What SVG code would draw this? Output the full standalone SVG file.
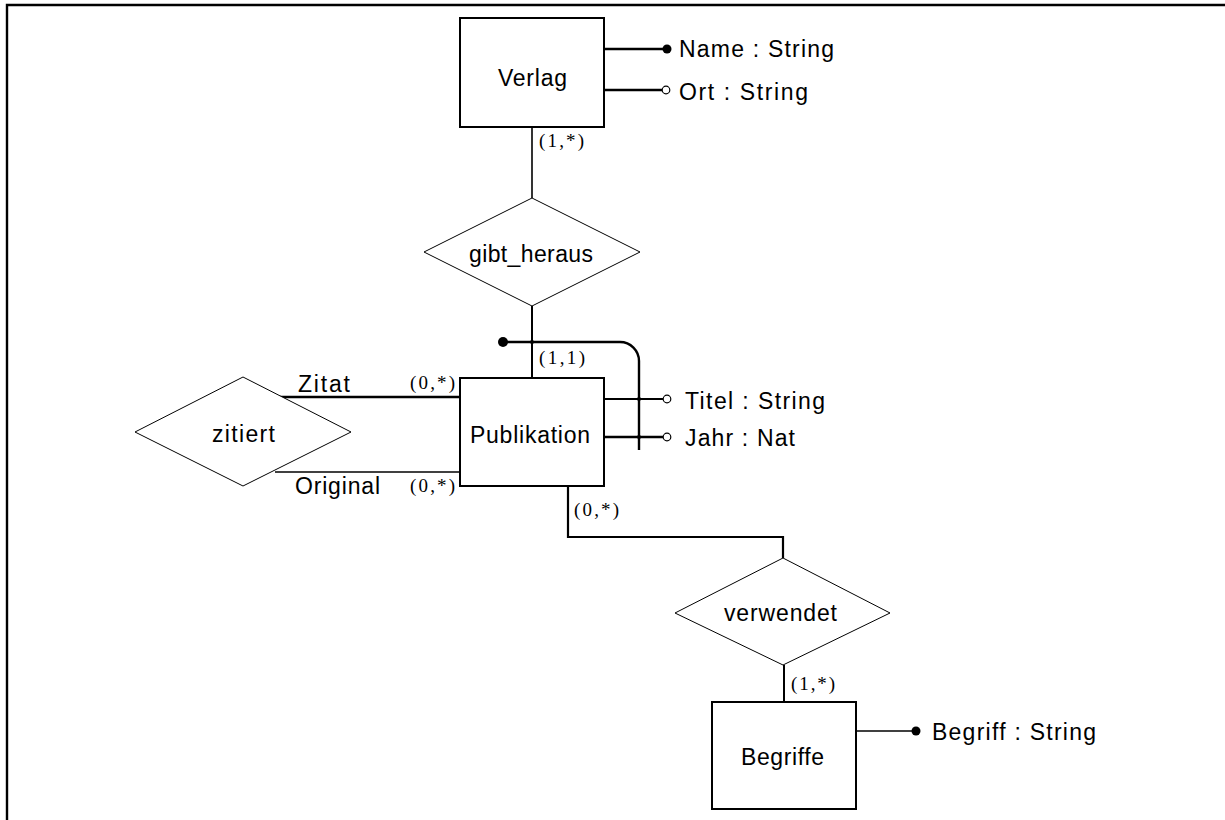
<svg xmlns="http://www.w3.org/2000/svg" width="1225" height="820" viewBox="0 0 1225 820">
<style>
.box{fill:#fff;stroke:#000;stroke-width:2}
.dia{fill:#fff;stroke:#000;stroke-width:1}
.ln{fill:none;stroke:#000;stroke-linecap:butt}
.t{font-family:"Liberation Sans","DejaVu Sans",sans-serif;font-size:23px;fill:#000}
.c{font-family:"Liberation Serif","DejaVu Serif",serif;font-size:19px;fill:#000}
.fd{fill:#000}
.hd{fill:#fff;stroke:#000;stroke-width:1.2}
</style>
<rect width="1225" height="820" fill="#fff"/>
<g id="frame">
<path class="ln" d="M7,820 V5 H1225" stroke-width="2.4"/>
</g>
<g id="connectors">
<line class="ln" x1="604" y1="49" x2="664" y2="49" stroke-width="2.6"/>
<line class="ln" x1="604" y1="90" x2="662" y2="90" stroke-width="2.6"/>
<line class="ln" x1="532" y1="127" x2="532" y2="198" stroke-width="1.6"/>
<line class="ln" x1="532" y1="306" x2="532" y2="378" stroke-width="2"/>
<path class="ln" d="M503,342 H620 A19,19 0 0 1 639,361 V450" stroke-width="2.4"/>
<line class="ln" x1="604" y1="399" x2="663" y2="399" stroke-width="2.2"/>
<line class="ln" x1="604" y1="437" x2="663" y2="437" stroke-width="2.6"/>
<line class="ln" x1="280" y1="397" x2="460" y2="397" stroke-width="2.6"/>
<line class="ln" x1="275" y1="472" x2="460" y2="472" stroke-width="1.6"/>
<path class="ln" d="M568,486 V537 H783 V558" stroke-width="2.2"/>
<line class="ln" x1="784" y1="665" x2="784" y2="702" stroke-width="2"/>
<line class="ln" x1="856" y1="731" x2="912" y2="731" stroke-width="1.6"/>
<circle class="fd" cx="667" cy="49" r="4.5"/>
<circle class="hd" cx="666" cy="90" r="3.8"/>
<circle class="fd" cx="503" cy="342" r="5"/>
<circle class="fd" cx="532" cy="342" r="2"/>
<circle class="fd" cx="639" cy="399" r="2"/>
<circle class="fd" cx="639" cy="437" r="2"/>
<circle class="hd" cx="667" cy="399" r="3.8"/>
<circle class="hd" cx="667" cy="437" r="3.8"/>
<circle class="fd" cx="916" cy="731" r="4.5"/>
<text class="c" x="539" y="147" textLength="45" lengthAdjust="spacing">(1,*)</text>
<text class="c" x="539" y="364" textLength="46" lengthAdjust="spacing">(1,1)</text>
<text class="c" x="410" y="389" textLength="45" lengthAdjust="spacing">(0,*)</text>
<text class="c" x="410" y="492" textLength="45" lengthAdjust="spacing">(0,*)</text>
<text class="c" x="574" y="516" textLength="45" lengthAdjust="spacing">(0,*)</text>
<text class="c" x="791" y="690" textLength="44" lengthAdjust="spacing">(1,*)</text>
<text class="t" x="298" y="392" textLength="52" lengthAdjust="spacing">Zitat</text>
<text class="t" x="295" y="494" textLength="85" lengthAdjust="spacing">Original</text>
</g>
<g id="Verlag">
<rect class="box" x="460" y="18" width="144" height="109"/>
<text class="t" x="498" y="86" textLength="69" lengthAdjust="spacing">Verlag</text>
</g>
<g id="attr-Name"><text class="t" x="679" y="57" textLength="155" lengthAdjust="spacing">Name : String</text></g>
<g id="attr-Ort"><text class="t" x="679" y="100" textLength="129" lengthAdjust="spacing">Ort : String</text></g>
<g id="gibt_heraus">
<polygon class="dia" points="532,198 640,252 532,306 424,252"/>
<text class="t" x="469" y="262" textLength="124" lengthAdjust="spacing">gibt_heraus</text>
</g>
<g id="Publikation">
<rect class="box" x="460" y="378" width="144" height="108"/>
<text class="t" x="470" y="443" textLength="120" lengthAdjust="spacing">Publikation</text>
</g>
<g id="attr-Titel"><text class="t" x="685" y="409" textLength="140" lengthAdjust="spacing">Titel : String</text></g>
<g id="attr-Jahr"><text class="t" x="685" y="446" textLength="110" lengthAdjust="spacing">Jahr : Nat</text></g>
<g id="zitiert">
<polygon class="dia" points="243,377 351,432 243,486 135,432"/>
<text class="t" x="212" y="442" textLength="63" lengthAdjust="spacing">zitiert</text>
</g>
<g id="verwendet">
<polygon class="dia" points="783,558 890,613 783,665 675,613"/>
<text class="t" x="724" y="621" textLength="113" lengthAdjust="spacing">verwendet</text>
</g>
<g id="Begriffe">
<rect class="box" x="712" y="702" width="144" height="107"/>
<text class="t" x="741" y="765" textLength="83" lengthAdjust="spacing">Begriffe</text>
</g>
<g id="attr-Begriff"><text class="t" x="932" y="740" textLength="164" lengthAdjust="spacing">Begriff : String</text></g>
</svg>
